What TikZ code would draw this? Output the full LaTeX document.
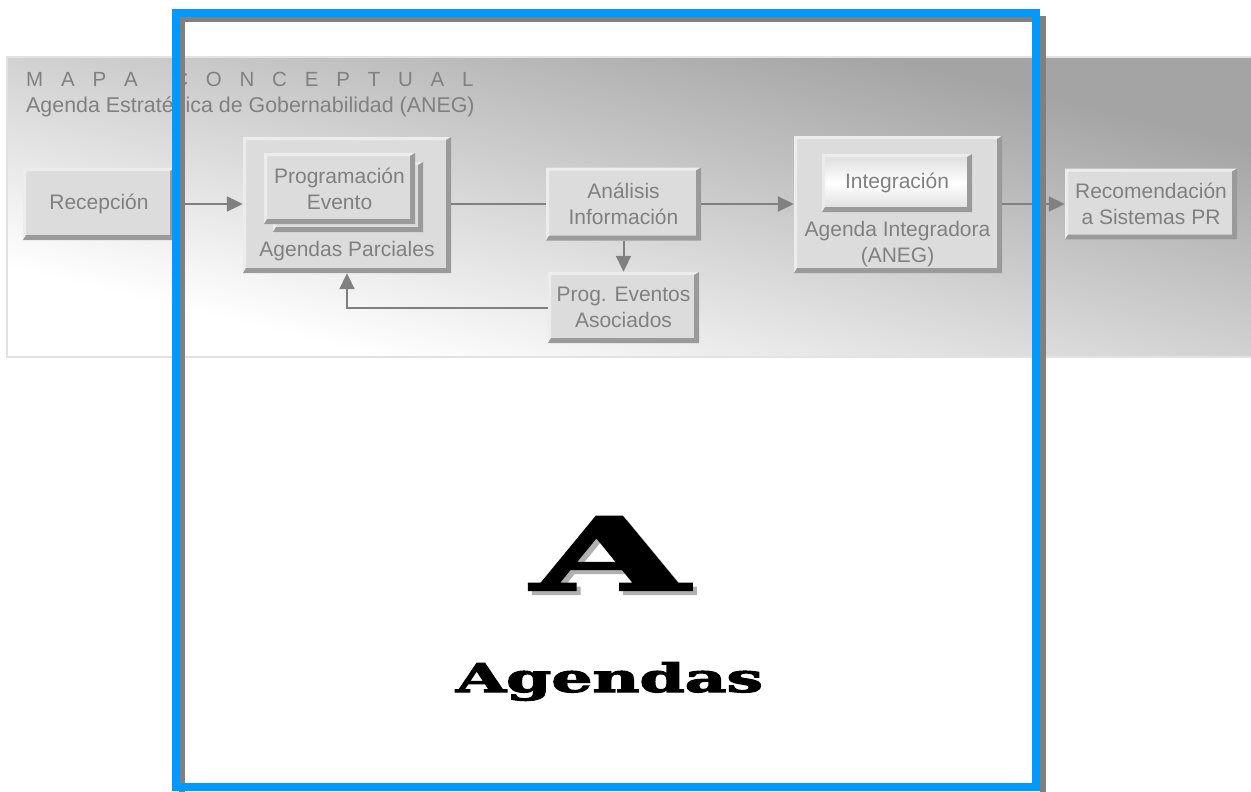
\documentclass[tikz,border=0pt]{standalone}
\usepackage{fontspec}
\setmainfont{Liberation Sans}
\newfontfamily\heavyfont{DejaVu Serif}[UprightFont={* Bold}, FakeBold=2.5]
\usetikzlibrary{arrows.meta,calc}
\definecolor{boxfill}{HTML}{DCDCDC}
\definecolor{bevdark}{HTML}{9A9A9A}
\definecolor{bevlight}{HTML}{ECECEC}
\definecolor{txtgray}{HTML}{808080}
\definecolor{linegray}{HTML}{808080}
\definecolor{frameblue}{HTML}{0099FF}
\definecolor{framegray}{HTML}{808080}
\definecolor{bandtop}{HTML}{A4A4A4}
\definecolor{bandedge}{HTML}{E2E2E2}
\definecolor{shadowgray}{HTML}{B0B0B0}
\newcommand\boxfont{\fontsize{21}{26}\selectfont}
\tikzset{
  bevelbox/.style={draw=none, fill=boxfill, inner sep=0pt, text=txtgray, align=center, font=\boxfont,
    path picture={
      \fill[bevlight] (path picture bounding box.north west) -- (path picture bounding box.north east)
        -- ([shift={(-3pt,-3pt)}]path picture bounding box.north east)
        -- ([shift={(3pt,-3pt)}]path picture bounding box.north west)
        -- ([shift={(3pt,3pt)}]path picture bounding box.south west)
        -- (path picture bounding box.south west) -- cycle;
      \fill[bevdark] (path picture bounding box.north east) -- (path picture bounding box.south east)
        -- (path picture bounding box.south west)
        -- ([shift={(3pt,5pt)}]path picture bounding box.south west)
        -- ([shift={(-5pt,5pt)}]path picture bounding box.south east)
        -- ([shift={(-5pt,-3pt)}]path picture bounding box.north east) -- cycle;
    }},
  innerbox/.style={bevelbox, top color=boxfill, bottom color=boxfill, middle color=white},
  lbl/.style={inner sep=0pt, text=txtgray, align=center, font=\boxfont},
  conn/.style={draw=linegray, line width=2pt},
  arr/.style={-{Triangle[length=16pt,width=15pt]}},
}
\begin{document}
\begin{tikzpicture}[x=1pt,y=-1pt]
\useasboundingbox (0,0) rectangle (1251,792);
\fill[white] (0,0) rectangle (1251,792);
% band: diagonal gradient stretched to the band
\begin{scope}[transform canvas={shift={(7pt,-57pt)}, xscale=12.49, yscale=3}]
  \shade[top color=bandtop, bottom color=white, shading angle=-45] (0pt,0pt) rectangle (100pt,-100pt);
\end{scope}
\draw[bandedge, line width=1.5pt] (7,57) rectangle (1256,357);
\node[lbl, anchor=base west, font=\fontsize{20.5}{24}\selectfont] (t1) at (26,87)
  {\spaceskip=17.8pt\relax M A P A\ \ C O N C E P T U A L};
\node[lbl, anchor=base west, font=\fontsize{21.4}{26}\selectfont] (t2) at (26,112) {Agenda Estratégica de Gobernabilidad (ANEG)};
% boxes
\node[bevelbox, minimum width=152pt, minimum height=72pt] (recep) at (99,204) {Recepción};
\node[bevelbox, minimum width=208pt, minimum height=136pt] (agp) at (347,205) {};
\node[bevelbox, minimum width=150pt, minimum height=70pt] (progb) at (348,197) {};
\node[bevelbox, minimum width=151pt, minimum height=71pt] (progf) at (339.5,188.5) {Programación\\Evento};
\node[lbl] (agpl) at (347,251) {Agendas Parciales};
\node[bevelbox, minimum width=155pt, minimum height=73pt] (anal) at (623.5,204) {Análisis\\Información};
\node[bevelbox, minimum width=151pt, minimum height=71pt] (pea) at (623.5,307.5) {Prog. Eventos\\Asociados};
\node[bevelbox, minimum width=208pt, minimum height=137pt] (aint) at (898,204.5) {};
\node[innerbox, minimum width=150pt, minimum height=58pt] (integ) at (897,183) {Integración};
\node[lbl] (aintl) at (897.5,244) {Agenda Integradora\\(ANEG)};
\node[bevelbox, minimum width=172pt, minimum height=71pt] (recom) at (1151,204) {Recomendación\\a Sistemas PR};
% connectors
\draw[conn, arr] (recep.east) -- (recep.east -| agp.west);
\draw[conn] (anal.west -| agp.east) -- (anal.west);
\draw[conn, arr] (anal.east) -- (anal.east -| aint.west);
\draw[conn, arr] (recom.west -| aint.east) -- (recom.west);
\draw[conn, arr] (anal.south) -- (pea.north);
\draw[conn, arr] (pea.west) -| (agp.south);
% frame
\draw[framegray, line width=6pt] (182,19.5) rectangle (1042.5,795);
\draw[frameblue, line width=8pt] (176,13) rectangle (1036,787);
% logo
\node[anchor=south, inner sep=0pt, text=shadowgray] (ashadow) at (614,594)
  {\resizebox{156pt}{73pt}{\heavyfont A}};
\node[anchor=south, inner sep=0pt, text=black] (biga) at (610,590)
  {\resizebox{156pt}{73pt}{\heavyfont A}};
\node[anchor=base, inner sep=0pt, text=black] (agendas) at (609.5,692)
  {\resizebox{307pt}{30pt}{\heavyfont Agendas}};
\end{tikzpicture}
\end{document}
